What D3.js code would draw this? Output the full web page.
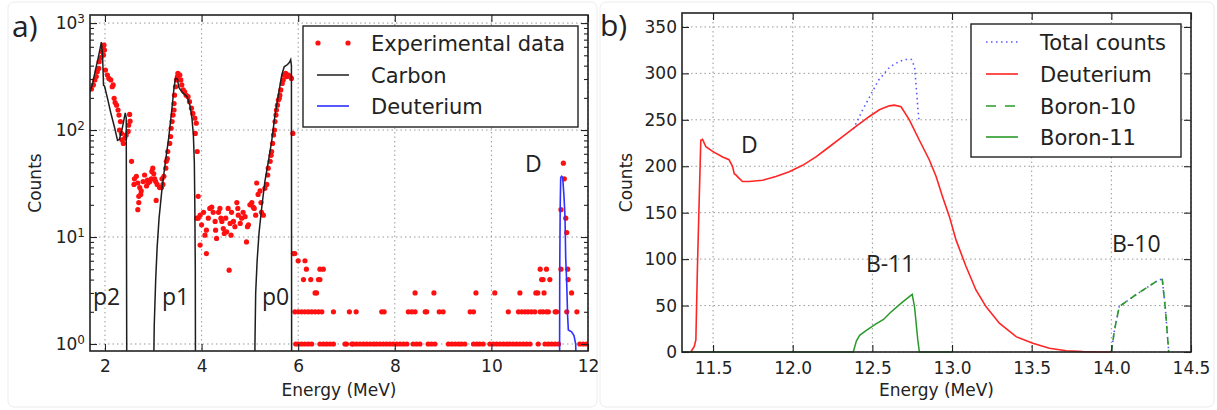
<!DOCTYPE html>
<html>
<head>
<meta charset="utf-8">
<script src="https://cdn.jsdelivr.net/npm/d3@7"></script>
<style>
body { margin: 0; background: #fff; }
svg text { font-family: "DejaVu Sans", sans-serif; fill: #222; }
.note { font-family: "Open Sans", sans-serif; }
</style>
</head>
<body>
<svg id="chart" width="1217" height="410"></svg>
<script>
// ---------- panel a data (energy MeV, counts) ----------
const expPeaks = [
  [1.72,242],[1.76,264],[1.79,294],[1.82,316],[1.84,351],[1.87,377],[1.88,436],[1.91,475],[1.94,540],[1.96,601],
  [1.98,623],[1.99,560],[1.97,502],[2.01,364],[2.05,327],[2.08,304],[2.12,294],[2.15,254],[2.17,264],[2.19,198],
  [2.21,181],[2.24,171],[2.27,154],[2.29,138],[2.32,120],[2.30,100],[2.34,93],[2.35,81],[2.38,75],[2.41,84],
  [2.44,90],[2.48,97],[2.49,111],[2.52,121],[2.51,140],
  [2.55,51],[2.61,35],[2.60,31],[2.65,37],[2.68,32],[2.72,29],[2.70,24],[2.74,25],[2.75,27],[2.79,33],
  [2.82,38],[2.86,30],[2.88,34],[2.89,32],[2.93,33],[2.96,35],[2.97,41],[2.99,44],[3.01,39],[3.03,35],
  [3.05,33],[3.06,22],[3.08,31],[3.13,29],[3.17,29],[3.20,31],[3.18,35],[3.22,37],[2.68,18],[2.70,21],
  [3.26,44],[3.27,51],[3.29,54],[3.30,63],[3.34,75],[3.36,87],[3.37,104],[3.39,120],[3.41,138],[3.43,154],
  [3.43,177],[3.44,212],[3.46,254],[3.48,294],[3.50,316],[3.51,339],[3.55,327],[3.57,294],[3.59,264],[3.62,237],
  [3.65,228],[3.68,212],[3.72,205],[3.75,184],[3.79,160],[3.82,143],[3.86,129],[3.89,116],[3.87,93],[3.91,63],
  [3.93,24],[3.90,15],[3.97,8.4],
  [3.93,15],[3.97,16],[4.00,13],[4.04,17],[4.07,10.4],[4.10,11.6],[4.14,15],[4.17,18.5],[4.21,19],[4.24,17],
  [4.28,14],[4.29,11.6],[4.31,9.7],[4.35,17],[4.38,18.5],[4.40,15],[4.42,14],[4.45,12],[4.47,10.8],[4.50,15],
  [4.52,11.2],[4.55,18.5],[4.57,4.9],[4.59,13.4],[4.61,10.4],[4.62,17],[4.66,14],[4.69,12.5],[4.73,21],[4.75,18.5],
  [4.76,16],[4.80,13.4],[4.83,15],[4.86,17],[4.90,15.5],[4.93,9],[4.95,12.5],[4.97,13],[5.00,20],[5.04,21],
  [5.07,19],[5.09,18.5],[5.12,16],[5.14,32],[5.17,25],[5.21,27],[5.23,21],[5.24,17],[5.28,16],[4.10,7],
  [5.31,28.5],[5.35,31],[5.37,38],[5.38,44],[5.42,51],[5.44,58],[5.45,63],[5.47,75],[5.49,90],[5.51,100],
  [5.52,120],[5.54,138],[5.55,154],[5.57,171],[5.59,191],[5.61,198],[5.62,212],[5.64,237],[5.67,273],[5.69,294],
  [5.71,327],[5.74,339],[5.76,316],[5.80,327],[5.83,316],[5.86,304],[5.89,93],
  [11.44,18],[11.49,49],[11.51,35],[11.54,15],[11.56,11]
];

// low-count tail: energies where the measured count is 1, 2, ... 7
const tailCounts = [1, 2, 3, 4, 5, 6, 7];
const tailE1 = [5.95,6.00,6.07,6.14,6.21,6.28,6.45,6.52,6.59,6.66,6.73,6.97,7.00,7.11,7.14,7.21,7.28,7.35,7.42,7.49,
  7.56,7.62,7.69,7.76,7.83,7.90,7.97,8.04,8.11,8.18,8.25,8.38,8.45,8.52,8.69,8.76,8.83,9.11,9.18,9.25,
  9.32,9.38,9.45,9.63,9.70,9.76,9.83,9.97,10.04,10.11,10.18,10.25,10.32,10.38,10.45,10.52,10.59,10.66,10.73,10.80,
  10.97,11.11,11.18,11.25,11.32,11.39,11.83,11.90,11.97];
const tailE2 = [5.93,6.00,6.07,6.14,6.21,6.28,6.35,6.42,6.49,6.73,7.06,7.20,7.73,7.78,8.28,8.35,8.42,8.63,8.66,8.92,
  9.00,9.56,9.63,10.35,10.56,10.63,10.70,10.76,10.83,10.90,11.01,11.07,11.14,11.18,11.32,11.35,11.56,11.77];
const tailE3 = [6.35,6.38,8.42,8.81,9.68,10.07,10.59,10.92,10.96,11.09,11.66];
const tailE4 = [6.11,6.26,6.42,6.45,11.04,11.07,11.21,11.59];
const tailE5 = [6.17,6.45,6.52,11.01,11.14,11.44,11.58];
const tailE6 = [6.00,6.14];
const tailE7 = [5.90,5.93];
const tailEnergies = [tailE1, tailE2, tailE3, tailE4, tailE5, tailE6, tailE7];

const carbonP2 = [[1.69,225],[1.75,280],[1.80,360],[1.85,450],[1.90,580],[1.925,665],[1.95,500],[1.97,262],[1.99,258],
  [2.05,200],[2.12,145],[2.20,105],[2.26,80],[2.30,82],[2.36,105],[2.42,145],[2.44,130],[2.45,1],[2.45,0.3]];
const carbonP1 = [[3.00,0.3],[3.02,1.5],[3.05,4],[3.08,8],[3.12,15],[3.18,28],[3.25,50],[3.32,85],[3.38,150],[3.43,250],
  [3.46,305],[3.50,300],[3.53,250],[3.60,225],[3.70,205],[3.76,170],[3.80,130],[3.83,90],[3.85,50],[3.86,20],
  [3.87,5],[3.875,0.3]];
const carbonP0 = [[5.10,0.3],[5.105,1],[5.12,3],[5.15,6],[5.19,11],[5.24,18],[5.31,33],[5.38,50],[5.45,78],[5.52,138],
  [5.59,212],[5.66,327],[5.71,390],[5.78,410],[5.82,430],[5.845,455],[5.86,400],[5.865,0.3]];
const deutA = [[11.41,0.3],[11.415,5],[11.425,20],[11.435,36],[11.455,37],[11.476,36],[11.503,24],[11.524,15.5],
  [11.538,6.5],[11.559,3.7],[11.579,1.8],[11.593,1.35],[11.66,1.3],[11.71,1.2],[11.745,1.0],[11.77,0.3]];

const xTicksA = [2, 4, 6, 8, 10, 12];
const yTicksA = [1, 10, 100, 1000];
const minorMantissa = [2, 3, 4, 5, 6, 7, 8, 9];

// ---------- panel b data (energy MeV, counts) ----------
const deutB = [[11.36,0],[11.382,6],[11.392,13],[11.402,92],[11.413,164],[11.423,228],[11.434,229],[11.455,221],
  [11.497,216],[11.56,210],[11.60,207],[11.622,200],[11.633,192],[11.643,190.7],[11.664,187],[11.685,183.5],
  [11.727,183.5],[11.811,185],[11.894,189],[11.978,194],[12.062,201],[12.146,210],[12.23,221],[12.313,232],
  [12.397,243],[12.481,253.6],[12.544,260.8],[12.606,265],[12.638,265.8],[12.68,264],[12.732,250],[12.795,228],
  [12.857,207],[12.90,189],[12.941,167],[12.983,146],[13.025,120.7],[13.088,92],[13.15,66.8],[13.213,48.9],
  [13.297,31],[13.402,16.5],[13.507,9.4],[13.611,4],[13.716,1.4],[13.82,0.4],[13.925,0],[14.0,0]];
const totalCounts = [[12.38,240],[12.44,261],[12.49,277],[12.54,293],[12.61,307],[12.67,313],[12.71,315],[12.745,315],
  [12.765,307],[12.775,286],[12.785,264],[12.792,250], null,
  [14.00,0],[14.02,24],[14.05,49],[14.10,55],[14.14,60],[14.22,69],[14.30,78],[14.32,78],[14.34,45],[14.36,0]];
const boron11 = [[11.30,0],[12.38,0],[12.40,12],[12.42,18],[12.46,23],[12.52,30],[12.57,35],[12.61,42],[12.67,51],
  [12.72,58],[12.75,62],[12.765,48],[12.785,13],[12.795,0],[13.0,0]];
const boron10 = [[14.00,0],[14.02,24],[14.05,49],[14.10,55],[14.14,60],[14.22,69],[14.30,78],[14.32,78],[14.34,45],[14.36,0]];

const xTicksB = [11.5, 12.0, 12.5, 13.0, 13.5, 14.0, 14.5];
const yTicksB = [0, 50, 100, 150, 200, 250, 300, 350];

const svg = d3.select('#chart');

// faint panel borders
svg.append('rect').attr('x', 8).attr('y', 2).attr('width', 589).attr('height', 405)
  .attr('rx', 6).attr('fill', 'none').attr('stroke', '#ececec');
svg.append('rect').attr('x', 600).attr('y', 2).attr('width', 614).attr('height', 405)
  .attr('rx', 6).attr('fill', 'none').attr('stroke', '#ececec');

function styleAxis(g, size) {
  g.select('.domain').remove();
  g.selectAll('line').attr('stroke', '#222').attr('stroke-width', 1.1);
  g.selectAll('text').style('font-size', size + 'px').attr('fill', '#222');
}

// ================= panel a =================
const aBox = {left: 90, right: 588, top: 15, bottom: 351};
const xA = d3.scaleLinear().domain([1.69, 12]).range([aBox.left, aBox.right]);
const yA = d3.scaleLog().domain([0.86, 1190]).range([aBox.bottom, aBox.top]);
const minorA = [];
[1, 10, 100].forEach(dec => minorMantissa.forEach(m => minorA.push(m * dec)));

const gA = svg.append('g');
gA.append('clipPath').attr('id', 'clipA').append('rect')
  .attr('x', aBox.left).attr('y', aBox.top)
  .attr('width', aBox.right - aBox.left).attr('height', aBox.bottom - aBox.top);

gA.selectAll('.gx').data(xTicksA).enter().append('line')
  .attr('x1', d => xA(d)).attr('x2', d => xA(d)).attr('y1', aBox.top).attr('y2', aBox.bottom)
  .attr('stroke', '#999').attr('stroke-dasharray', '1.5,3');
gA.selectAll('.gy').data(yTicksA).enter().append('line')
  .attr('x1', aBox.left).attr('x2', aBox.right).attr('y1', d => yA(d)).attr('y2', d => yA(d))
  .attr('stroke', '#999').attr('stroke-dasharray', '1.5,3');

const tailPoints = [];
tailCounts.forEach((c, i) => tailEnergies[i].forEach(e => tailPoints.push([e, c])));
const allExp = expPeaks.concat(tailPoints);

const plotA = gA.append('g').attr('clip-path', 'url(#clipA)');
plotA.selectAll('.dot').data(allExp).enter().append('circle')
  .attr('cx', d => xA(d[0])).attr('cy', d => yA(d[1])).attr('r', 2.6)
  .attr('fill', '#ff1010');

const lineA = d3.line().x(d => xA(d[0])).y(d => yA(d[1]));
[carbonP2, carbonP1, carbonP0].forEach(seg => {
  plotA.append('path').attr('d', lineA(seg)).attr('fill', 'none')
    .attr('stroke', '#1e1e1e').attr('stroke-width', 1.5);
});
plotA.append('path').attr('d', lineA(deutA)).attr('fill', 'none')
  .attr('stroke', '#2f2fff').attr('stroke-width', 1.6);

// axes a
const axA_b = gA.append('g').attr('transform', `translate(0,${aBox.bottom})`)
  .call(d3.axisBottom(xA).tickValues(xTicksA).tickSizeInner(-7).tickSizeOuter(0).tickPadding(9).tickFormat(d3.format('d')));
styleAxis(axA_b, 17);
const axA_t = gA.append('g').attr('transform', `translate(0,${aBox.top})`)
  .call(d3.axisTop(xA).tickValues(xTicksA).tickSizeInner(-7).tickSizeOuter(0).tickFormat(''));
styleAxis(axA_t, 17);
const axA_l = gA.append('g').attr('transform', `translate(${aBox.left},0)`)
  .call(d3.axisLeft(yA).tickValues(yTicksA).tickSizeInner(-7).tickSizeOuter(0).tickPadding(5).tickFormat(() => ''));
styleAxis(axA_l, 17);
axA_l.selectAll('.tick text').each(function(d) {
  const t = d3.select(this);
  t.append('tspan').text('10');
  t.append('tspan').attr('dy', -6).style('font-size', '12px').text(Math.round(Math.log10(d)));
});
const axA_lm = gA.append('g').attr('transform', `translate(${aBox.left},0)`)
  .call(d3.axisLeft(yA).tickValues(minorA).tickSize(-4).tickFormat(''));
styleAxis(axA_lm, 17);
const axA_r = gA.append('g').attr('transform', `translate(${aBox.right},0)`)
  .call(d3.axisRight(yA).tickValues(yTicksA).tickSize(-7).tickFormat(''));
styleAxis(axA_r, 17);
const axA_rm = gA.append('g').attr('transform', `translate(${aBox.right},0)`)
  .call(d3.axisRight(yA).tickValues(minorA).tickSize(-4).tickFormat(''));
styleAxis(axA_rm, 17);

gA.append('rect').attr('x', aBox.left).attr('y', aBox.top)
  .attr('width', aBox.right - aBox.left).attr('height', aBox.bottom - aBox.top)
  .attr('fill', 'none').attr('stroke', '#222').attr('stroke-width', 1.6);

gA.append('text').attr('x', (aBox.left + aBox.right) / 2).attr('y', 396)
  .attr('text-anchor', 'middle').style('font-size', '17px').text('Energy (MeV)');
gA.append('text').attr('transform', `translate(41,${(aBox.top + aBox.bottom) / 2}) rotate(-90)`)
  .attr('text-anchor', 'middle').style('font-size', '17px').text('Counts');

// legend a
const legA = gA.append('g');
legA.append('rect').attr('x', 303).attr('y', 26).attr('width', 275).attr('height', 101)
  .attr('fill', '#fff').attr('stroke', '#222').attr('stroke-width', 1.4);
const legRowsA = [43, 75, 106];
legA.selectAll('.ld').data([318, 348]).enter().append('circle')
  .attr('cx', d => d).attr('cy', legRowsA[0]).attr('r', 2.6).attr('fill', '#ff1010');
legA.append('line').attr('x1', 317).attr('x2', 349).attr('y1', legRowsA[1]).attr('y2', legRowsA[1])
  .attr('stroke', '#1e1e1e').attr('stroke-width', 1.5);
legA.append('line').attr('x1', 317).attr('x2', 349).attr('y1', legRowsA[2]).attr('y2', legRowsA[2])
  .attr('stroke', '#2f2fff').attr('stroke-width', 1.6);
['Experimental data', 'Carbon', 'Deuterium'].forEach((t, i) => {
  legA.append('text').attr('x', 371).attr('y', legRowsA[i] + 8).style('font-size', '21px').text(t);
});

// annotations a
gA.append('text').attr('class', 'note').attr('x', 12).attr('y', 37).style('font-size', '30px').text('a)');
[['p2', 93], ['p1', 162], ['p0', 262]].forEach(p => {
  gA.append('text').attr('class', 'note').attr('x', p[1]).attr('y', 305).style('font-size', '23px').text(p[0]);
});
gA.append('text').attr('class', 'note').attr('x', 525).attr('y', 172).style('font-size', '23px').text('D');

// ================= panel b =================
const bBox = {left: 682, right: 1191, top: 13, bottom: 352};
const xB = d3.scaleLinear().domain([11.305, 14.5]).range([bBox.left, bBox.right]);
const yB = d3.scaleLinear().domain([0, 365]).range([bBox.bottom, bBox.top]);

const gB = svg.append('g');
gB.append('clipPath').attr('id', 'clipB').append('rect')
  .attr('x', bBox.left).attr('y', bBox.top)
  .attr('width', bBox.right - bBox.left).attr('height', bBox.bottom - bBox.top + 1);

gB.selectAll('.gx').data(xTicksB).enter().append('line')
  .attr('x1', d => xB(d)).attr('x2', d => xB(d)).attr('y1', bBox.top).attr('y2', bBox.bottom)
  .attr('stroke', '#999').attr('stroke-dasharray', '1.5,3');
gB.selectAll('.gy').data(yTicksB).enter().append('line')
  .attr('x1', bBox.left).attr('x2', bBox.right).attr('y1', d => yB(d)).attr('y2', d => yB(d))
  .attr('stroke', '#999').attr('stroke-dasharray', '1.5,3');

const lineB = d3.line().defined(d => d !== null).x(d => xB(d[0])).y(d => yB(d[1]));
const plotB = gB.append('g').attr('clip-path', 'url(#clipB)');
plotB.append('path').attr('d', lineB(totalCounts)).attr('fill', 'none')
  .attr('stroke', '#5555ff').attr('stroke-width', 1.6).attr('stroke-dasharray', '1.5,3.5');
plotB.append('path').attr('d', lineB(boron11)).attr('fill', 'none')
  .attr('stroke', '#2a9a2a').attr('stroke-width', 1.5);
plotB.append('path').attr('d', lineB(deutB)).attr('fill', 'none')
  .attr('stroke', '#ff2525').attr('stroke-width', 1.6);
plotB.append('path').attr('d', lineB(boron10)).attr('fill', 'none')
  .attr('stroke', '#2a9a2a').attr('stroke-width', 1.6).attr('stroke-dasharray', '7,5');

const axB_b = gB.append('g').attr('transform', `translate(0,${bBox.bottom})`)
  .call(d3.axisBottom(xB).tickValues(xTicksB).tickSizeInner(-7).tickSizeOuter(0).tickPadding(10).tickFormat(d3.format('.1f')));
styleAxis(axB_b, 17);
const axB_t = gB.append('g').attr('transform', `translate(0,${bBox.top})`)
  .call(d3.axisTop(xB).tickValues(xTicksB).tickSizeInner(-7).tickSizeOuter(0).tickFormat(''));
styleAxis(axB_t, 17);
const axB_l = gB.append('g').attr('transform', `translate(${bBox.left},0)`)
  .call(d3.axisLeft(yB).tickValues(yTicksB).tickSizeInner(-7).tickSizeOuter(0).tickPadding(5));
styleAxis(axB_l, 17);
const axB_r = gB.append('g').attr('transform', `translate(${bBox.right},0)`)
  .call(d3.axisRight(yB).tickValues(yTicksB).tickSize(-7).tickFormat(''));
styleAxis(axB_r, 17);

gB.append('rect').attr('x', bBox.left).attr('y', bBox.top)
  .attr('width', bBox.right - bBox.left).attr('height', bBox.bottom - bBox.top)
  .attr('fill', 'none').attr('stroke', '#222').attr('stroke-width', 1.6);

gB.append('text').attr('x', (bBox.left + bBox.right) / 2).attr('y', 396)
  .attr('text-anchor', 'middle').style('font-size', '17px').text('Energy (MeV)');
gB.append('text').attr('transform', `translate(632,${(bBox.top + bBox.bottom) / 2}) rotate(-90)`)
  .attr('text-anchor', 'middle').style('font-size', '17px').text('Counts');

// legend b
const legB = gB.append('g');
legB.append('rect').attr('x', 971).attr('y', 24).attr('width', 210).attr('height', 133)
  .attr('fill', '#fff').attr('stroke', '#222').attr('stroke-width', 1.4);
const legRowsB = [42, 74, 106, 137];
const legStylesB = [
  {label: 'Total counts', color: '#5555ff', dash: '1.5,3.5'},
  {label: 'Deuterium', color: '#ff2525', dash: null},
  {label: 'Boron-10', color: '#2a9a2a', dash: '10,9'},
  {label: 'Boron-11', color: '#2a9a2a', dash: null}
];
legStylesB.forEach((s, i) => {
  legB.append('line').attr('x1', 986).attr('x2', 1018).attr('y1', legRowsB[i]).attr('y2', legRowsB[i])
    .attr('stroke', s.color).attr('stroke-width', 1.6).attr('stroke-dasharray', s.dash);
  legB.append('text').attr('x', 1040).attr('y', legRowsB[i] + 8).style('font-size', '21px').text(s.label);
});

// annotations b
gB.append('text').attr('class', 'note').attr('x', 600).attr('y', 36).style('font-size', '30px').text('b)');
gB.append('text').attr('class', 'note').attr('x', 741).attr('y', 153).style('font-size', '23px').text('D');
gB.append('text').attr('class', 'note').attr('x', 866).attr('y', 272).style('font-size', '23px').text('B-11');
gB.append('text').attr('class', 'note').attr('x', 1112).attr('y', 252).style('font-size', '23px').text('B-10');
</script>
</body>
</html>
